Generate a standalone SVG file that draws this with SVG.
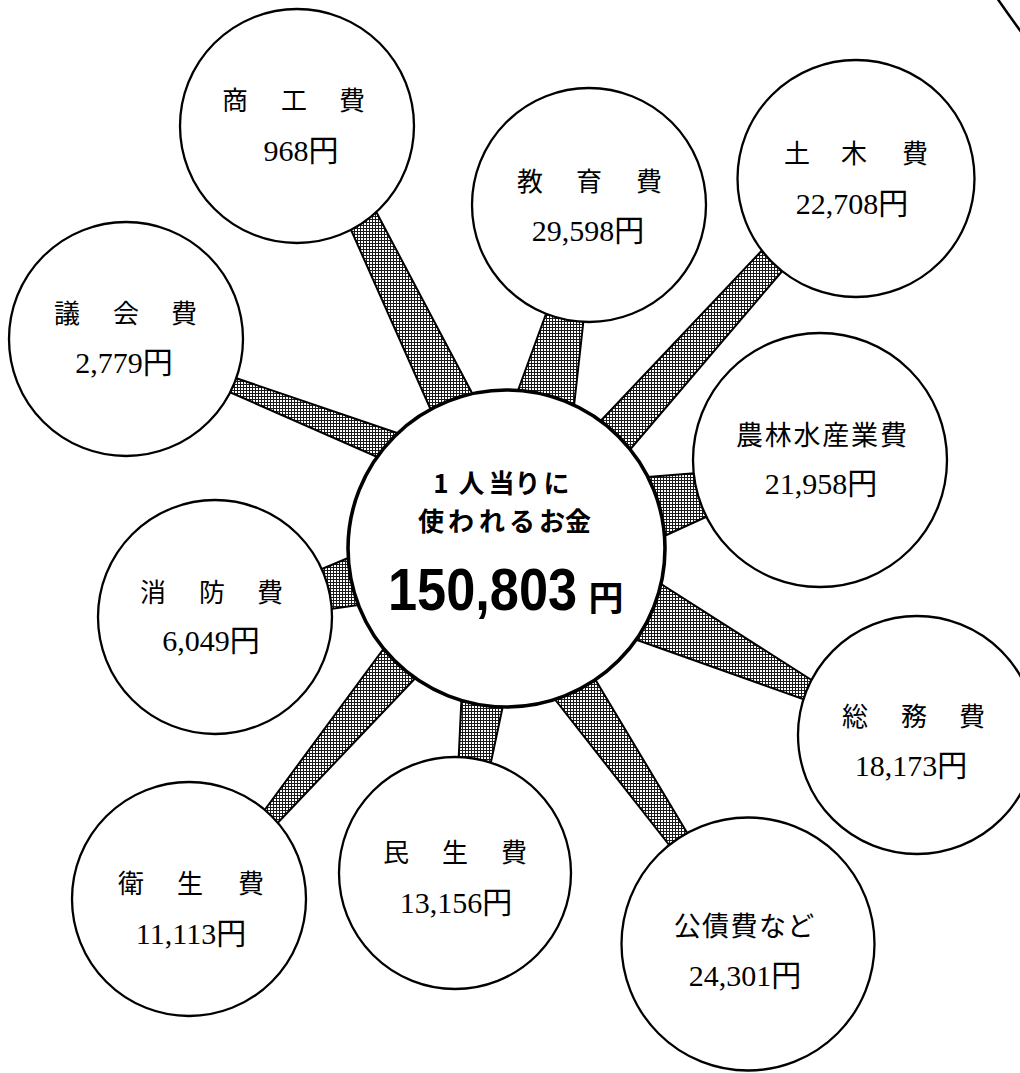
<svg xmlns="http://www.w3.org/2000/svg" width="1020" height="1073" viewBox="0 0 1020 1073">
<defs>
<pattern id="hatch" width="3" height="3" patternUnits="userSpaceOnUse">
<rect width="3" height="3" fill="#fff"/>
<rect width="3" height="1" fill="#1a1a1a"/>
<rect width="1" height="3" fill="#1a1a1a"/>
</pattern>
<style>
.bar{fill:url(#hatch);stroke:#000;stroke-width:2;stroke-linejoin:round}
.node{fill:#fff;stroke:#000;stroke-width:2.3}
.hub{fill:#fff;stroke:#000;stroke-width:3.6}
.lbl{font-family:"Noto Sans CJK JP","Noto Sans CJK SC",sans-serif;font-size:26px;text-anchor:middle;fill:#000}
.lbl2{font-family:"Noto Sans CJK JP","Noto Sans CJK SC",sans-serif;font-size:27px;text-anchor:middle;fill:#000}
.num{font-family:"Liberation Serif","Noto Sans CJK JP",serif;font-size:30px;text-anchor:middle;fill:#000}
.hubt{font-family:"Noto Sans CJK JP","Noto Sans CJK SC",sans-serif;font-size:26px;font-weight:bold;text-anchor:middle;fill:#000}
.big{font-family:"Liberation Sans",sans-serif;font-size:60px;font-weight:bold;fill:#000}
.yen{font-family:"Noto Sans CJK JP","Noto Sans CJK SC",sans-serif;font-size:35px;font-weight:bold;text-anchor:middle;fill:#000}
.arc{fill:none;stroke:#000;stroke-width:2.5}
</style>
</defs>
<rect width="1020" height="1073" fill="#fff"/>

<g id="connectors">
<polygon class="bar" points="344,214 438,426 481,410 371,202"/>
<polygon class="bar" points="221,373 409,437 391,463 218,387"/>
<polygon class="bar" points="550,303 513,404 573,415 585,307"/>
<polygon class="bar" points="768,244 593,429 622,459 790,262"/>
<polygon class="bar" points="710,472 635,478 649,543 719,511"/>
<polygon class="bar" points="647,575 824,688 817,704 623,635"/>
<polygon class="bar" points="546,688 677,855 695,846 589,669"/>
<polygon class="bar" points="462,687 458,772 488,776 505,696"/>
<polygon class="bar" points="390,640 258,819 269,832 424,669"/>
<polygon class="bar" points="310,574 360,553 372,603 317,611"/>
</g>

<g id="edge-arc">
<path class="arc" d="M997 -2 Q1008 14 1022 33"/>
</g>

<g id="node-shoko">
<circle class="node" cx="297" cy="126" r="117"/>
<text class="lbl" x="235 294 352" y="110">商工費</text>
<text class="num" x="301" y="161">968円</text>
</g>

<g id="node-gikai">
<circle class="node" cx="126" cy="339" r="117"/>
<text class="lbl" x="67 126 184" y="323">議会費</text>
<text class="num" x="124" y="373">2,779円</text>
</g>

<g id="node-kyoiku">
<circle class="node" cx="589" cy="205" r="117"/>
<text class="lbl" x="530 589 649" y="191">教育費</text>
<text class="num" x="588" y="241">29,598円</text>
</g>

<g id="node-doboku">
<circle class="node" cx="856" cy="178.5" r="118.5"/>
<text class="lbl" x="797 854 915" y="163">土木費</text>
<text class="num" x="852" y="214">22,708円</text>
</g>

<g id="node-norin">
<circle class="node" cx="820" cy="460" r="127"/>
<text class="lbl2" x="749.4 778.2 807 835.8 864.6 893.4" y="445">農林水産業費</text>
<text class="num" x="821" y="494">21,958円</text>
</g>

<g id="node-shobo">
<circle class="node" cx="215" cy="617" r="117"/>
<text class="lbl" x="153 212 270" y="602">消防費</text>
<text class="num" x="211" y="651">6,049円</text>
</g>

<g id="node-somu">
<circle class="node" cx="917" cy="735" r="119"/>
<text class="lbl" x="855 914 972" y="726">総務費</text>
<text class="num" x="911" y="776">18,173円</text>
</g>

<g id="node-eisei">
<circle class="node" cx="189" cy="899" r="117"/>
<text class="lbl" x="131 190 251" y="893">衛生費</text>
<text class="num" x="191" y="944">11,113円</text>
</g>

<g id="node-minsei">
<circle class="node" cx="455" cy="873" r="116"/>
<text class="lbl" x="396 455 514" y="862">民生費</text>
<text class="num" x="456" y="913">13,156円</text>
</g>

<g id="node-kosai">
<circle class="node" cx="748" cy="944" r="126.5"/>
<text class="lbl2" x="687.2 715.6 744 772.4 800.8" y="936">公債費など</text>
<text class="num" x="745" y="986">24,301円</text>
</g>

<g id="node-center">
<circle class="hub" cx="506.5" cy="548.5" r="158.5"/>
<text class="hubt" x="441 471.5 501.5 527.5 556.5" y="493">1人当りに</text>
<text class="hubt" x="431 461 492 522 552 578" y="531">使われるお金</text>
<text class="big" transform="translate(388 610) scale(0.872 1)" x="0" y="0">150,803</text>
<text class="yen" x="606" y="611">円</text>
</g>
</svg>
